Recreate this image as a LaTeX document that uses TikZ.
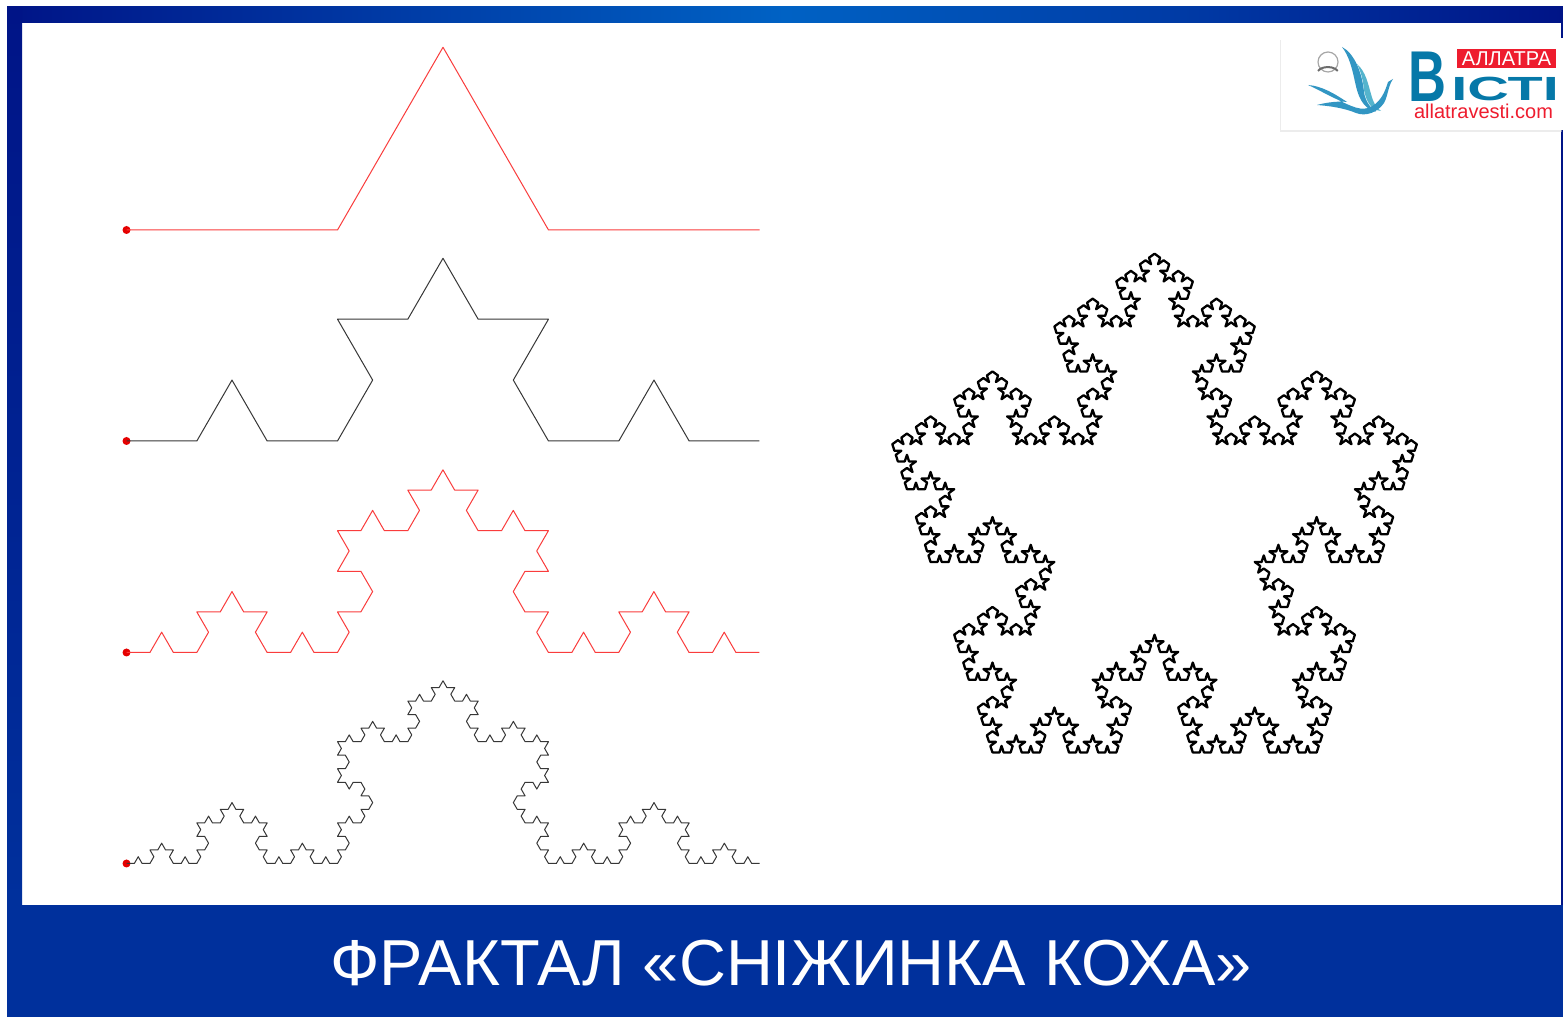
\documentclass[tikz,border=0pt]{standalone}
\usepackage{fontspec}
\setmainfont{Liberation Sans}
\usetikzlibrary{lindenmayersystems,shadows}
\definecolor{bandblue}{RGB}{0,48,156}
\definecolor{navyblue}{RGB}{0,20,135}
\definecolor{midblue}{RGB}{0,98,196}
\definecolor{logoteal}{RGB}{6,120,168}
\definecolor{logored}{RGB}{238,28,46}
\definecolor{curvered}{RGB}{250,60,60}
\definecolor{curvegray}{RGB}{55,55,55}
\definecolor{birdblue}{RGB}{50,150,195}
\definecolor{birdpale}{RGB}{85,180,205}
\pgfdeclarelindenmayersystem{koch}{\rule{F -> F+F--F+F}}

\begin{document}
\begin{tikzpicture}[
  x=1pt, y=1pt,
  redcurve/.style={draw=curvered, line width=1pt, line join=round},
  graycurve/.style={draw=curvegray, line width=1pt, line join=round},
  flake/.style={draw=black, line width=2.3pt, line join=round},
  startdot/.style={circle, fill=red!90!black, inner sep=0pt, minimum size=8pt},
  logotext/.style={font=\bfseries, text=logoteal, inner sep=0pt, transform shape},
  ]
  \useasboundingbox (0,0) rectangle (1563,1017);
  \fill[white] (0,0) rectangle (1563,1017);
  \shade[left color=navyblue, right color=navyblue, middle color=midblue] (7,994) rectangle (1563,1010);
  \shade[top color=navyblue, bottom color=bandblue] (7,112) rectangle (22,1010);
  \fill[navyblue] (1561,112) rectangle (1563,994);
  \fill[bandblue] (7,0) rectangle (1563,112);
  \node[startdot] (dotone) at (126.5,787) {};
  \node[startdot] (dottwo) at (126.5,576) {};
  \node[startdot] (dotthree) at (126.5,364.5) {};
  \node[startdot] (dotfour) at (126.5,153.5) {};
  \draw[redcurve, shift={(dotone.center)}, l-system={koch, axiom=F, order=1, step=211pt, angle=60}] lindenmayer system;
  \draw[graycurve, shift={(dottwo.center)}, l-system={koch, axiom=F, order=2, step=70.33pt, angle=60}] lindenmayer system;
  \draw[redcurve, shift={(dotthree.center)}, l-system={koch, axiom=F, order=3, step=23.44pt, angle=60}] lindenmayer system;
  \draw[graycurve, shift={(dotfour.center)}, l-system={koch, axiom=F, order=4, step=7.815pt, angle=60}] lindenmayer system;
  \coordinate (corner) at (992.5,264.5);
  \draw[flake, shift={(corner)}, l-system={koch, axiom=F+F+F+F+F, order=4, step=6.9pt, angle=72}] lindenmayer system -- cycle;
  \node[text=white, font=\fontsize{65}{65}\selectfont, anchor=base, inner sep=0pt] (title) at (791,31) {ФРАКТАЛ «СНІЖИНКА КОХА»};
  \begin{scope}[shift={(0,1017)}, yscale=-1]
    \fill[white, drop shadow={shadow xshift=-1pt, shadow yshift=-2pt, fill=black!14}] (1281,38) rectangle (1563,130);
    \draw[gray!70, line width=1.2pt] (1328,62) circle (10);
    \draw[gray!85!black, line width=2pt] (1318,71) arc (200:340:10.5 and 6);
    \fill[birdblue] (1342,47) .. controls (1354,53) and (1362,72) .. (1364,92) .. controls (1365,100) and (1370,108) .. (1376,112) .. controls (1362,108) and (1358,96) .. (1355,82) .. controls (1352,68) and (1349,56) .. (1342,47) -- cycle;
    \fill[birdpale] (1357,64) .. controls (1366,72) and (1368,84) .. (1371,94) .. controls (1373,102) and (1376,108) .. (1381,111) .. controls (1370,110) and (1366,100) .. (1364,90) .. controls (1363,80) and (1361,72) .. (1357,64) -- cycle;
    \fill[birdblue] (1393,79) -- (1388,82) .. controls (1385,92) and (1380,104) .. (1368,108) .. controls (1358,111) and (1347,104) .. (1330,96) .. controls (1322,92) and (1315,88) .. (1308,85) .. controls (1322,86) and (1335,94) .. (1347,102) .. controls (1340,101) and (1328,102) .. (1317,105) .. controls (1330,106) and (1344,108) .. (1356,113) .. controls (1366,117) and (1378,112) .. (1384,103) .. controls (1388,96) and (1388,86) .. (1393,79) -- cycle;
    \fill[logored] (1457,49) rectangle (1556,68);
  \end{scope}
  \node[text=white, font=\fontsize{20}{20}\selectfont, inner sep=0pt] (brand) at (1506.5,958.5) {АЛЛАТРА};
  \node[logotext, font=\bfseries\fontsize{72}{72}\selectfont, anchor=base west, xscale=0.73] (bigletter) at (1408,915) {В};
  \node[logotext, font=\bfseries\fontsize{33.5}{33.5}\selectfont, anchor=base west, xscale=1.72] (restletters) at (1451,916) {ІСТІ};
  \node[text=logored, font=\fontsize{20}{20}\selectfont, anchor=base, inner sep=0pt] (siteurl) at (1483.5,898) {allatravesti.com};
\end{tikzpicture}
\end{document}
